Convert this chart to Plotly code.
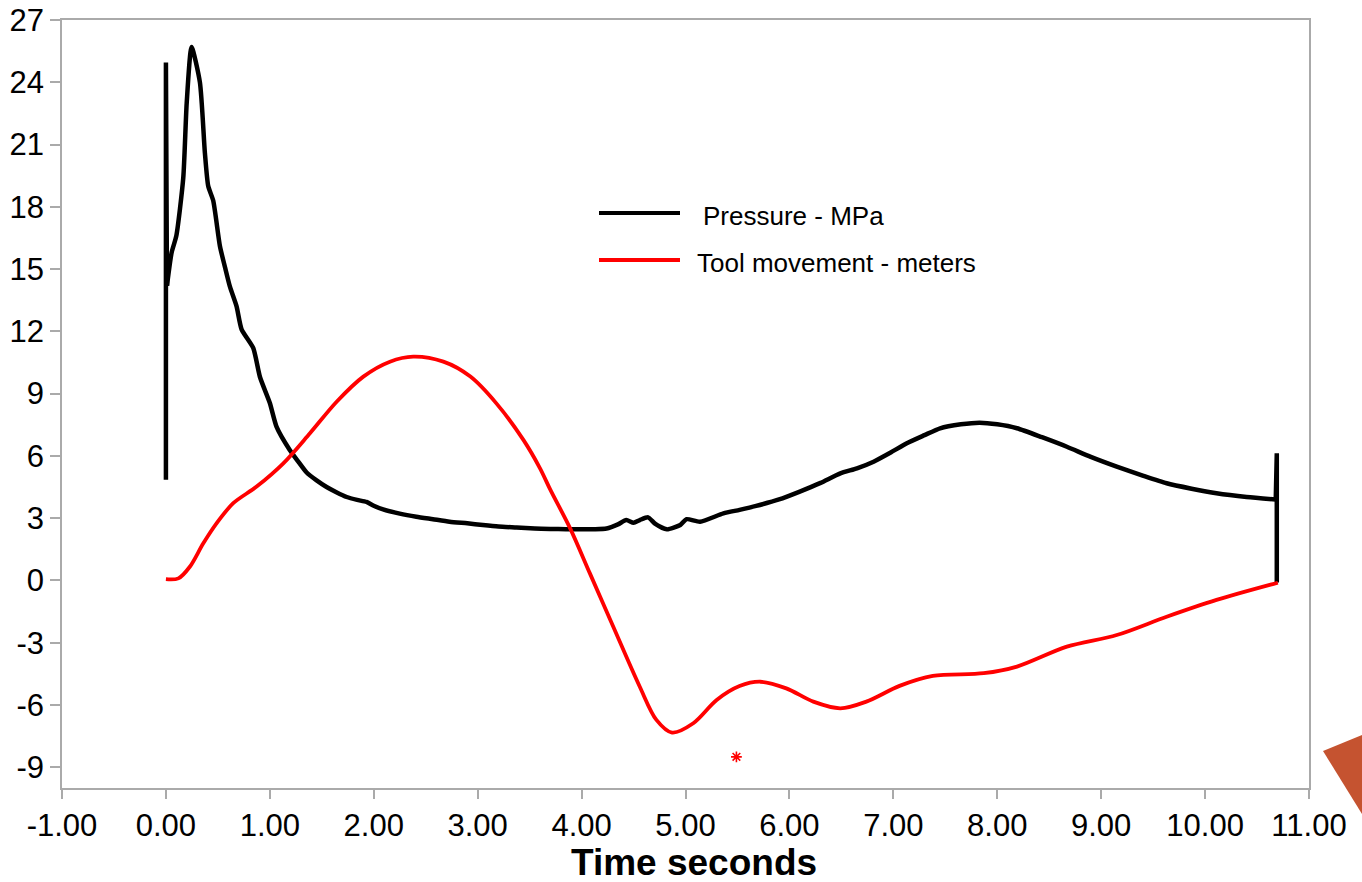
import plotly.graph_objects as go

# Pressure trace (MPa) against time (s)
pressure_time = [0.00, 0.00, 0.01, 0.055, 0.10, 0.167, 0.20, 0.247, 0.327, 0.375,
                 0.407, 0.455, 0.52, 0.568, 0.616, 0.68, 0.728, 0.84, 0.905, 1.00,
                 1.065, 1.19, 1.27, 1.354, 1.45, 1.546, 1.64, 1.74, 1.84, 1.93,
                 2.00, 2.09, 2.25, 2.41, 2.57, 2.73, 2.90, 3.05, 3.20, 3.375,
                 3.55, 3.70, 3.85, 4.00, 4.12, 4.24, 4.35, 4.43, 4.50, 4.56,
                 4.64, 4.71, 4.82, 4.95, 5.01, 5.14, 5.365, 5.52, 5.68, 5.90,
                 6.10, 6.30, 6.49, 6.65, 6.81, 6.97, 7.13, 7.30, 7.45, 7.65,
                 7.83, 8.00, 8.19, 8.43, 8.67, 8.90, 9.15, 9.40, 9.63, 9.87,
                 10.11, 10.40, 10.68, 10.69, 10.69]
pressure_mpa = [4.85, 24.95, 14.2, 15.8, 16.6, 19.4, 23.0, 25.7, 24.0, 20.6,
                19.0, 18.3, 16.1, 15.1, 14.15, 13.2, 12.1, 11.2, 9.8, 8.55,
                7.4, 6.3, 5.75, 5.2, 4.82, 4.5, 4.25, 4.02, 3.88, 3.78,
                3.6, 3.42, 3.22, 3.07, 2.95, 2.83, 2.75, 2.67, 2.6, 2.55,
                2.5, 2.48, 2.47, 2.47, 2.47, 2.5, 2.7, 2.91, 2.78, 2.91,
                3.04, 2.72, 2.46, 2.67, 2.95, 2.83, 3.23, 3.4, 3.59, 3.9,
                4.28, 4.7, 5.16, 5.4, 5.72, 6.15, 6.61, 7.0, 7.33, 7.52,
                7.60, 7.52, 7.33, 6.9, 6.44, 5.95, 5.48, 5.05, 4.68, 4.42,
                4.20, 4.02, 3.90, 6.13, -0.10]

# Tool movement (m) against time (s)
tool_time = [0.00, 0.12, 0.23, 0.36, 0.487, 0.648, 0.873, 1.13, 1.386, 1.643,
             1.90, 2.156, 2.38, 2.67, 2.93, 3.18, 3.44, 3.60, 3.70, 3.89,
             4.08, 4.305, 4.56, 4.72, 4.87, 5.075, 5.30, 5.52, 5.72, 5.97,
             6.23, 6.49, 6.74, 7.06, 7.38, 7.87, 8.19, 8.67, 9.15, 9.63,
             10.11, 10.70]
tool_m = [0.06, 0.10, 0.66, 1.79, 2.75, 3.72, 4.52, 5.64, 7.09, 8.61,
          9.82, 10.54, 10.78, 10.54, 9.82, 8.53, 6.77, 5.40, 4.36, 2.51,
          0.34, -2.23, -5.12, -6.72, -7.33, -6.88, -5.76, -5.09, -4.88, -5.20,
          -5.84, -6.16, -5.84, -5.08, -4.60, -4.47, -4.15, -3.19, -2.63, -1.75,
          -0.94, -0.11]

# Marked point
marker_time = [5.49]
marker_value = [-8.5]

x_ticks = [-1, 0, 1, 2, 3, 4, 5, 6, 7, 8, 9, 10, 11]
x_tick_labels = ["-1.00", "0.00", "1.00", "2.00", "3.00", "4.00", "5.00",
                 "6.00", "7.00", "8.00", "9.00", "10.00", "11.00"]
y_ticks = [-9, -6, -3, 0, 3, 6, 9, 12, 15, 18, 21, 24, 27]
y_tick_labels = ["-9", "-6", "-3", "0", "3", "6", "9", "12", "15", "18",
                 "21", "24", "27"]

legend_names = ["Pressure - MPa", "Tool movement - meters"]
legend_colors = ["#000000", "#ff0000"]

W, H = 1362, 882
ML, MR, MT, MB = 62, 53, 20, 94
PW, PH = W - ML - MR, H - MT - MB


def px(x):
    return (x - ML) / PW


def py(y):
    return (H - MB - y) / PH


FONT = "Liberation Sans, Arial, sans-serif"
BLACK_W = 4.5

fig = go.Figure()
# pressure: sharp spikes at both ends drawn straight, the body smoothed
fig.add_trace(go.Scatter(x=pressure_time[:3], y=pressure_mpa[:3], mode="lines",
                         line=dict(color=legend_colors[0], width=BLACK_W)))
fig.add_trace(go.Scatter(x=pressure_time[2:-2], y=pressure_mpa[2:-2],
                         mode="lines", name=legend_names[0],
                         line=dict(color=legend_colors[0], width=BLACK_W,
                                   shape="spline", smoothing=0.6)))
fig.add_trace(go.Scatter(x=pressure_time[-3:], y=pressure_mpa[-3:],
                         mode="lines",
                         line=dict(color=legend_colors[0], width=BLACK_W)))
fig.add_trace(go.Scatter(x=tool_time, y=tool_m, mode="lines",
                         name=legend_names[1],
                         line=dict(color=legend_colors[1], width=3.8,
                                   shape="spline", smoothing=0.9)))
fig.add_trace(go.Scatter(x=marker_time, y=marker_value, mode="markers",
                         marker=dict(symbol="asterisk-open", size=9,
                                     color="#ff0000",
                                     line=dict(color="#ff0000", width=1.6))))

axis_common = dict(showline=True, linecolor="#aaaaaa", linewidth=1.5,
                   mirror=True, ticks="outside", tickcolor="#aaaaaa",
                   tickwidth=1.5, showgrid=False, zeroline=False,
                   automargin=False,
                   tickfont=dict(family=FONT, size=31, color="#000000"))

fig.update_layout(
    width=W, height=H,
    margin=dict(l=ML, r=MR, t=MT, b=MB),
    paper_bgcolor="white", plot_bgcolor="white",
    showlegend=False,
    xaxis=dict(range=[-1, 11], tickvals=x_ticks, ticktext=x_tick_labels,
               ticklen=9, **axis_common),
    yaxis=dict(range=[-10, 27], tickvals=y_ticks, ticktext=y_tick_labels,
               ticklen=10, **axis_common),
)

# Axis title
fig.add_annotation(text="<b>Time seconds</b>", xref="paper", yref="paper",
                   x=px(694), y=py(862), xanchor="center", yanchor="middle",
                   showarrow=False,
                   font=dict(family=FONT, size=37, color="#000000"))

# Legend drawn inside the plot area
legend_rows = [(213, 216, 701), (260, 263, 695)]
for (line_y, text_y, text_x), name, color in zip(legend_rows, legend_names,
                                                 legend_colors):
    fig.add_shape(type="line", xref="paper", yref="paper",
                  x0=px(599), x1=px(680), y0=py(line_y), y1=py(line_y),
                  line=dict(color=color, width=4))
    fig.add_annotation(text=name, xref="paper", yref="paper",
                       x=px(text_x), y=py(text_y), xanchor="left",
                       yanchor="middle", showarrow=False,
                       font=dict(family=FONT, size=26, color="#000000"))

# Decorative wedge at the lower right edge
tri = [(1323, 751), (1372, 731), (1372, 830)]
path = "M {} {} L {} {} L {} {} Z".format(
    px(tri[0][0]), py(tri[0][1]), px(tri[1][0]), py(tri[1][1]),
    px(tri[2][0]), py(tri[2][1]))
fig.add_shape(type="path", xref="paper", yref="paper", path=path,
              fillcolor="#c55330", line=dict(width=0))

fig.write_html("out.html")
